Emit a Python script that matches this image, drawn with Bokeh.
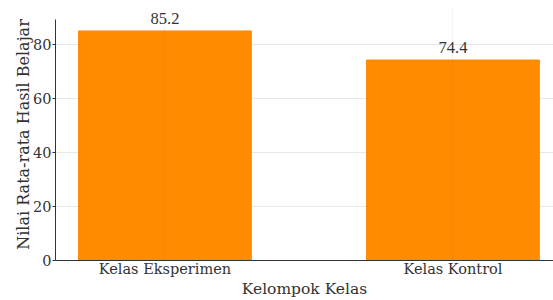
from bokeh.plotting import figure
from bokeh.models import ColumnDataSource, Range1d, FixedTicker, LabelSet
from bokeh.embed import file_html
from bokeh.resources import INLINE

categories = ["Kelas Eksperimen", "Kelas Kontrol"]
values = [85.2, 74.4]
labels = ["85.2", "74.4"]
y_ticks = [0, 20, 40, 60, 80]

xs = list(range(len(categories)))
src = ColumnDataSource(dict(x=xs, top=values, label=labels))

FONT = "DejaVu Serif"
TXT = "#333333"
Y_MAX = 89.46

p = figure(width=553, height=300, output_backend="svg", toolbar_location=None,
           x_range=Range1d(-0.38, 1.349), y_range=Range1d(0, 93.53),
           min_border_left=55, min_border_right=0, min_border_top=8, min_border_bottom=39)
p.outline_line_color = None
p.background_fill_color = "white"
p.border_fill_color = "white"

p.vbar(x="x", top="top", width=0.6, bottom=0, source=src,
       fill_color="#FF8C00", line_color="#FF8C00")

p.add_layout(LabelSet(x="x", y="top", text="label", source=src,
                      text_align="center", text_baseline="alphabetic", y_offset=7,
                      text_font=FONT, text_font_size="16.5px", text_color=TXT))

p.xaxis.ticker = FixedTicker(ticks=xs)
p.xaxis.major_label_overrides = {i: c for i, c in zip(xs, categories)}
p.yaxis.ticker = FixedTicker(ticks=y_ticks)
p.yaxis.bounds = (0, Y_MAX)

for ax in (p.xaxis[0], p.yaxis[0]):
    ax.axis_line_color = "#333333"
    ax.axis_line_width = 1
    ax.major_tick_line_color = "#333333"
    ax.major_tick_in = 0
    ax.major_tick_out = 0
    ax.minor_tick_line_color = None
    ax.major_label_text_font = FONT
    ax.major_label_text_font_size = "14.5px"
    ax.major_label_text_color = TXT
    ax.axis_label_text_font = FONT
    ax.axis_label_text_font_size = "16px"
    ax.axis_label_text_font_style = "normal"
    ax.axis_label_text_color = TXT

p.xaxis.axis_label_text_font_size = "15.5px"
p.yaxis.major_tick_out = 3
p.xaxis.axis_label = "Kelompok Kelas"
p.yaxis.axis_label = "Nilai Rata-rata Hasil Belajar"
p.xaxis.major_label_standoff = 0
p.xaxis.axis_label_standoff = 0
p.yaxis.major_label_standoff = 1
p.yaxis.axis_label_standoff = -3

p.xgrid.ticker = FixedTicker(ticks=xs)
p.xgrid.bounds = (0, Y_MAX)
p.ygrid.ticker = FixedTicker(ticks=y_ticks)
p.ygrid.grid_line_color = "#e8e8e8"
p.ygrid.level = "underlay"
p.xgrid.grid_line_color = "#000000"
p.xgrid.grid_line_alpha = 0.04
p.xgrid.level = "glyph"

open("out.html", "w").write(file_html(p, INLINE))
